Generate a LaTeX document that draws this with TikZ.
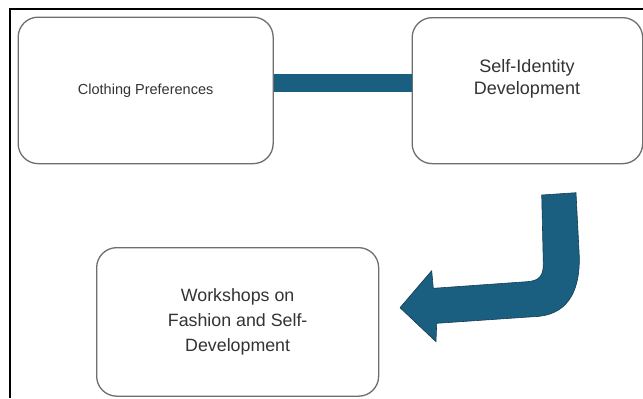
\documentclass[tikz,border=0pt]{standalone}
\usepackage{fontspec}
\setmainfont{Liberation Sans}
\definecolor{arrowblue}{RGB}{26,94,128}
\definecolor{arrowedge}{RGB}{20,60,85}
\definecolor{boxgray}{RGB}{110,110,110}
\begin{document}
\begin{tikzpicture}[x=1bp,y=-1bp,
  box/.style={draw=boxgray,line width=1.3bp,rounded corners=20bp,fill=white,
    anchor=north west,inner sep=0pt,align=center,text=black!80},
  txt/.style={align=center,text=black!80,inner sep=0pt}]
\useasboundingbox (0,0) rectangle (643,398);
% frame (top and left edges)
\draw[line width=1.2bp,black] (643,9) -- (10,9) -- (10,398);
% boxes
\node[box,minimum width=255bp,minimum height=146.5bp,
  font=\fontsize{14.5bp}{17bp}\selectfont] (b1) at (17.5,16.5) {Clothing Preferences};
\node[box,minimum width=230.5bp,minimum height=146bp] (b2) at (411.5,17) {};
\node[txt,font=\fontsize{18bp}{22bp}\selectfont] (t2) at (527,79) {Self-Identity\\Development};
\node[box,minimum width=282bp,minimum height=148.5bp,
  font=\fontsize{17.8bp}{25bp}\selectfont] (b3) at (96,247) {Workshops on\\Fashion and Self-\\Development};
% connecting bar
\coordinate (barc) at (0,83);
\draw[arrowblue,line width=18bp] (b1.east |- barc) -- (b2.west |- barc);
% bent arrow from b2 towards b3
\fill[arrowblue,draw=arrowedge,line width=0.6bp,line join=round]
  (541.7,195) -- (576,192.7) -- (579.3,256.7)
  .. controls (580,295) and (565,316) .. (533.3,316.7)
  -- (436.7,323.3) -- (436,341.7) -- (400,307.7) -- (431.7,270.7)
  -- (433.3,288.3) -- (526.7,281.7)
  .. controls (540,281) and (543.5,275) .. (543.3,263.3) -- cycle;
\end{tikzpicture}
\end{document}
